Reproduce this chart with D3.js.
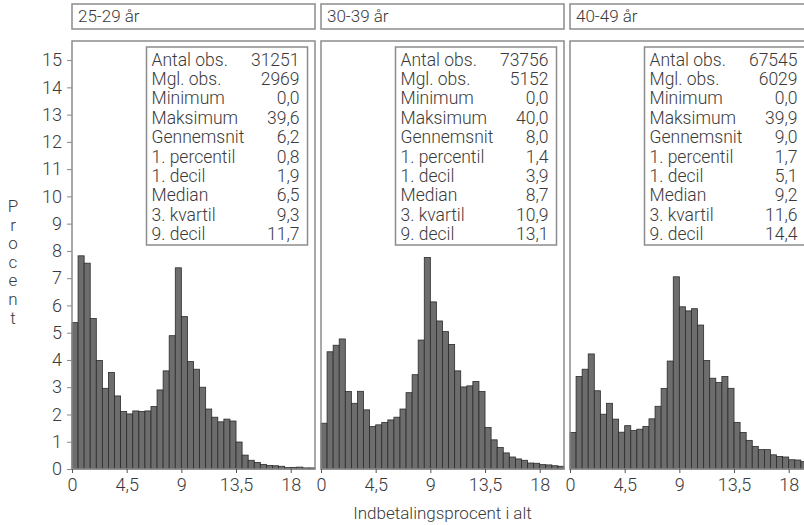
<!DOCTYPE html>
<html>
<head>
<meta charset="utf-8">
<script src="https://cdn.jsdelivr.net/npm/d3@7"></script>
<style>
  body { margin: 0; background: #fff; }
  text { font-family: Roboto, "Noto Sans", sans-serif; font-weight: 300; fill: #3a3a3a; }
</style>
</head>
<body>
<div id="graph"></div>
<script>
// panel titles
var panels = ["25-29 år", "30-39 år", "40-49 år"];

// bin starts (width 0,5)
var binWidth = 0.5;
var bins = d3.range(0, 20, binWidth);

// percent per bin
var pct2529 = [5.37, 7.82, 7.55, 5.52, 3.98, 2.96, 3.54, 2.68, 2.11, 2.02,
               2.13, 2.11, 2.13, 2.29, 2.90, 3.60, 4.89, 7.38, 5.59, 3.94,
               3.66, 3.00, 2.20, 1.90, 1.73, 1.83, 1.76, 0.99, 0.51, 0.32,
               0.24, 0.17, 0.13, 0.12, 0.10, 0.05, 0.06, 0.07, 0.04, 0.04];
var pct3039 = [1.68, 4.30, 4.54, 4.77, 2.84, 2.41, 2.85, 2.17, 1.56, 1.62,
               1.71, 1.80, 1.90, 2.20, 2.80, 3.46, 4.73, 7.76, 6.13, 5.43,
               5.04, 4.57, 3.60, 3.01, 3.05, 3.21, 2.84, 1.52, 1.07, 0.79,
               0.59, 0.44, 0.37, 0.32, 0.22, 0.21, 0.16, 0.15, 0.12, 0.10];
var pct4049 = [1.34, 3.39, 3.66, 4.22, 2.87, 2.01, 2.41, 1.83, 1.35, 1.59,
               1.41, 1.46, 1.56, 1.84, 2.30, 2.95, 3.96, 7.05, 5.95, 5.80,
               5.88, 5.28, 3.98, 3.33, 3.17, 3.39, 2.96, 1.71, 1.34, 1.05,
               0.83, 0.71, 0.71, 0.52, 0.46, 0.44, 0.34, 0.33, 0.27, 0.26];
var series = [pct2529, pct3039, pct4049];

// summary table in each panel
var statLabels = ["Antal obs.", "Mgl. obs.", "Minimum", "Maksimum", "Gennemsnit",
                  "1. percentil", "1. decil", "Median", "3. kvartil", "9. decil"];
var stats2529 = ["31251", "2969", "0,0", "39,6", "6,2", "0,8", "1,9", "6,5", "9,3", "11,7"];
var stats3039 = ["73756", "5152", "0,0", "40,0", "8,0", "1,4", "3,9", "8,7", "10,9", "13,1"];
var stats4049 = ["67545", "6029", "0,0", "39,9", "9,0", "1,7", "5,1", "9,2", "11,6", "14,4"];
var stats = [stats2529, stats3039, stats4049];

// tick labels
var xTicks = [0, 4.5, 9, 13.5, 18];
var yTicks = d3.range(0, 16);

// layout
var W = 804, H = 525;
var left = 72, panelW = 243, gap = 6;
var headTop = 4, headH = 25;
var plotTop = 41, plotBottom = 469;

var fmt = function(d) { return String(d).replace(".", ","); };

var svg = d3.select("#graph")
    .append("svg")
    .attr("width", W)
    .attr("height", H);

var x = d3.scaleLinear().domain([0, 20]).range([0, panelW]);
var y = d3.scaleLinear().domain([0, 15.7]).range([plotBottom, plotTop]);

panels.forEach(function(name, p) {
    var px = left + p * (panelW + gap);
    var g = svg.append("g").attr("transform", "translate(" + px + ",0)");

    // header strip
    g.append("rect")
        .attr("x", 0).attr("y", headTop)
        .attr("width", panelW).attr("height", headH)
        .attr("fill", "#fff")
        .attr("stroke", "#8c8c8c")
        .attr("stroke-width", 1.5);
    g.append("text")
        .attr("x", 6).attr("y", headTop + 18)
        .style("font-size", "17px")
        .text(name);

    // bars
    g.selectAll(".bar")
        .data(series[p])
        .enter()
        .append("rect")
        .attr("class", "bar")
        .attr("x", function(d, i) { return x(bins[i]); })
        .attr("width", function(d, i) { return x(bins[i] + binWidth) - x(bins[i]); })
        .attr("y", function(d) { return y(d); })
        .attr("height", function(d) { return y(0) - y(d); })
        .attr("fill", "#6d6d6d")
        .attr("stroke", "#2b2b2b")
        .attr("stroke-width", 0.8);

    // plot frame
    g.append("rect")
        .attr("x", 0).attr("y", plotTop)
        .attr("width", panelW).attr("height", plotBottom - plotTop)
        .attr("fill", "none")
        .attr("stroke", "#8c8c8c")
        .attr("stroke-width", 1.5);

    // x axis
    var xa = g.append("g")
        .attr("transform", "translate(0," + plotBottom + ")")
        .call(d3.axisBottom(x).tickValues(xTicks).tickSize(4).tickFormat(fmt));
    xa.select(".domain").remove();
    xa.selectAll("line").attr("stroke", "#555");
    xa.selectAll("text")
        .attr("y", 9)
        .style("font-size", "18px")
        .style("font-weight", 300)
        .style("fill", "#3a3a3a");

    // stats box
    var bx = 74.5, by = 47, bw = 161, bh = 198;
    g.append("rect")
        .attr("x", bx).attr("y", by)
        .attr("width", bw).attr("height", bh)
        .attr("fill", "#fff")
        .attr("stroke", "#8c8c8c")
        .attr("stroke-width", 1.5);
    var rows = g.selectAll(".row")
        .data(statLabels)
        .enter()
        .append("g")
        .attr("class", "row")
        .attr("transform", function(d, i) { return "translate(0," + (by + 18.5 + i * 19.4) + ")"; });
    rows.append("text")
        .attr("x", bx + 5)
        .style("font-size", "17.5px")
        .text(function(d) { return d; });
    rows.append("text")
        .attr("x", bx + bw - 8)
        .attr("text-anchor", "end")
        .style("font-size", "17.5px")
        .text(function(d, i) { return stats[p][i]; });

    // y axis on first panel only
    if (p == 0) {
        var ya = g.append("g")
            .call(d3.axisLeft(y).tickValues(yTicks).tickSize(5));
        ya.select(".domain").remove();
        ya.selectAll("line").attr("stroke", "#888");
        ya.selectAll("text")
            .attr("x", -10)
            .style("font-size", "18px")
            .style("font-weight", 300)
            .style("fill", "#3a3a3a");
    }
});

// x title
svg.append("text")
    .attr("x", left + (3 * panelW + 2 * gap) / 2)
    .attr("y", 519)
    .attr("text-anchor", "middle")
    .style("font-size", "17px")
    .text("Indbetalingsprocent i alt");

// y title, letters stacked
svg.append("text")
    .attr("text-anchor", "middle")
    .style("font-size", "17px")
    .selectAll("tspan")
    .data("Procent".split(""))
    .enter()
    .append("tspan")
    .attr("x", 13)
    .attr("y", function(d, i) { return 212 + i * 18.6; })
    .text(function(d) { return d; });
</script>
</body>
</html>
